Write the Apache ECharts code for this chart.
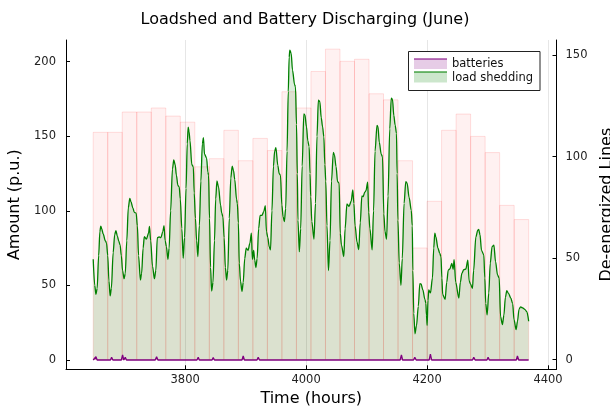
<!DOCTYPE html>
<html>
<head>
<meta charset="utf-8">
<script src="https://cdn.jsdelivr.net/npm/echarts@6/dist/echarts.min.js"></script>
<style>
  html, body { margin: 0; padding: 0; background: #fff; }
  #chart { width: 610px; height: 409px; }
</style>
</head>
<body>
<div id="chart"></div>
<script>
// day edges (hours) for the de-energized lines bars
var dayEdges = [3648, 3672, 3696, 3720, 3744, 3768, 3792, 3816, 3840, 3864, 3888,
  3912, 3936, 3960, 3984, 4008, 4032, 4056, 4080, 4104, 4128,
  4152, 4176, 4200, 4224, 4248, 4272, 4296, 4320, 4344, 4368];
// de-energized lines per day (right axis)
var deEnergized = [112, 112, 122, 122, 124, 120, 117, 95, 99, 113,
  98, 109, 103, 132, 124, 142, 153, 147, 148, 131,
  128, 98, 55, 78, 113, 121, 110, 102, 76, 69];

// load shedding (left axis)
var shedHours = [
  3648, 3650.5, 3652.5, 3654.5, 3657, 3659, 3660.5, 3662, 3664.5, 3668, 3670, 3672, 3674, 3676,
  3678, 3681, 3683.5, 3685.5, 3688, 3690, 3692.5, 3694.5, 3696.5, 3699,
  3701, 3703.5, 3706, 3708.5, 3710.5, 3713.5, 3716, 3719, 3721, 3723, 3726,
  3728, 3730.5, 3732.5, 3736, 3739.5, 3741, 3743, 3746, 3749.2,
  3751.5, 3754, 3757, 3760, 3763, 3765, 3767, 3769, 3771.5,
  3773.5, 3776, 3779, 3781.2, 3783.5, 3785.5, 3788, 3790.2, 3792, 3794.5, 3796.8,
  3799, 3801.5, 3803.5, 3805, 3806.5, 3808, 3811, 3813.5, 3815, 3817, 3819, 3821,
  3823.5, 3826, 3828.5, 3830.2, 3832, 3835.4, 3837.6, 3838.7, 3840.3, 3842, 3843.8,
  3846, 3848.5, 3850.5, 3852.6, 3855.2, 3858.5, 3860.5, 3862.4, 3864.5, 3866.5, 3868.5,
  3870.5, 3873, 3875.5, 3877.8, 3880, 3882, 3885, 3886.3, 3888, 3889.5, 3891.5, 3894,
  3896, 3898.5, 3901, 3904, 3907, 3909.5, 3911.2, 3913.3, 3915, 3917,
  3919, 3921.5, 3924, 3927, 3930, 3932.5, 3934.5, 3936.7, 3939, 3941.1,
  3943.5, 3946, 3948, 3950, 3953.2, 3955.5, 3957.6, 3959.9, 3962, 3964, 3966.2,
  3968.5, 3970.5, 3972, 3973.1, 3975.3, 3977.5, 3981, 3982.4, 3984.1, 3985.5, 3986.5, 3988.8,
  3991, 3993.5, 3996.2, 3998, 4000.6, 4002.8, 4005, 4006.5, 4007.6, 4009.4, 4013,
  4015.5, 4018, 4020.3, 4022.7, 4025, 4027.2, 4029.3, 4031, 4032.5, 4034.5, 4037,
  4039.5, 4042, 4045, 4046.8, 4049.5, 4052, 4054.6, 4056.5, 4058.5, 4062.3,
  4064.5, 4067.5, 4071, 4074.5, 4077.2, 4079, 4081, 4084.2, 4087,
  4089.5, 4092.2, 4094.3, 4097, 4099, 4101.8, 4103.5, 4105.5, 4109.2,
  4111.5, 4114, 4117.2, 4118.8, 4121, 4124.2, 4126.3, 4128.5, 4130.5, 4133,
  4135.5, 4138.3, 4140.8, 4142.8, 4145, 4147.2, 4149.4, 4150.5, 4151.8, 4154, 4156.8,
  4159, 4162, 4164.8, 4167, 4170.3, 4173.9, 4175.5, 4176.5, 4178, 4180,
  4182.5, 4185.5, 4188, 4190, 4193, 4196.5, 4198, 4199, 4200.1,
  4201.5, 4202.8, 4205.6, 4208.9, 4211, 4212.8, 4214.4, 4218, 4221, 4223, 4224.5, 4225.8,
  4229.8, 4232.5, 4235, 4237.6, 4241, 4243.1, 4244.7, 4247.4, 4252.5,
  4255, 4257.5, 4260.7, 4264.1, 4267.4, 4269.6, 4271.7, 4275,
  4277, 4280.6, 4283.9, 4285.4, 4287.5, 4290, 4293.8, 4295.5, 4297, 4299.3,
  4302, 4304.5, 4307.5, 4310.5, 4313.2, 4316.5, 4319.2, 4321.5, 4324.6,
  4327, 4329.5, 4331.8, 4334.6, 4338.5, 4341.5, 4343.8, 4347.2,
  4349.5, 4352, 4354.6, 4358, 4361.5, 4365, 4368
];
var shedValues = [
  67.5, 50, 44, 48, 70, 86, 89.8, 88, 84.5, 80, 78.5, 70, 53, 43,
  48, 72, 84, 86.7, 83, 80, 77, 70, 60, 54.5,
  58, 80, 102, 108.3, 106, 102, 99, 98.5, 90, 70, 53.6,
  58, 75, 82.7, 81, 85, 89.6, 80, 63, 54.5,
  60, 82, 82.5, 82, 86, 90, 80, 76, 67.5,
  75, 100, 128, 134.1, 131, 124, 117, 116, 108, 88, 68.2,
  82, 115, 145, 156.2, 153, 147, 131, 129.6, 112, 95, 80, 69.4,
  90, 120, 145, 149, 138, 135.5, 126, 124, 95, 62, 46.2,
  52, 80, 108, 120, 116, 104, 98.5, 96, 82, 62, 53.6,
  60, 95, 122, 130, 127, 121, 107.8, 105, 92, 65, 53, 46,
  52, 68, 75, 73.5, 78.2, 85, 67.5, 73.5, 67, 62,
  68, 88, 97, 97, 99.5, 103.5, 86, 82, 76, 73.8,
  100, 130, 140, 142.3, 130.5, 125, 124, 104, 96, 92.8, 101.5,
  140, 180, 203, 207.8, 205.6, 194.4, 184.5, 183.3, 158, 125, 93.8, 72.6,
  88, 130, 165, 164.3, 156.4, 147, 143, 125, 109.5, 93, 81,
  105, 150, 174.3, 173.2, 162.5, 156.4, 149.7, 131, 120, 90, 60,
  80, 120, 139.2, 137.5, 129.6, 119.6, 118.5, 85, 77, 69.4,
  88, 104.6, 103, 106.5, 114, 105, 90, 79, 74,
  92, 110, 109.5, 112.5, 113.5, 119.2, 99, 88, 73.8,
  100, 140, 157.3, 156.4, 146, 138, 136.3, 98, 86, 81,
  110, 155, 175.5, 174.8, 164, 157.5, 152, 125, 93.8, 65, 50,
  68, 105, 119.6, 118.5, 109, 100.3, 90, 60, 31.3, 17.6,
  23, 36, 51.2, 51, 47, 40.5, 38, 30, 23.2,
  40, 47, 45, 55, 75, 85, 82.7, 75, 71.5, 69.3, 55, 44,
  40.6, 52, 60.3, 61, 64.8, 60.8, 67.3, 52, 41.5,
  52, 58.1, 60.5, 61, 67, 53, 51, 48,
  60, 82.3, 87.1, 87.6, 84, 73.5, 70.5, 55, 38, 30.2,
  45, 65, 76, 77, 66, 57, 55, 29, 23.8,
  30, 42, 46.5, 44.7, 41.5, 37.8, 27, 20.3,
  26, 34, 35.6, 35, 34, 32.4, 26
];

// battery discharging (left axis)
var batteryHours = [
  3648, 3650.5, 3652.5, 3654.5, 3676.5, 3678.4, 3680.5, 3694.5, 3696.6, 3698.5, 3701, 3703,
  3726, 3728, 3730, 3750.5, 3752.8, 3755, 3773, 3774.8, 3777, 3795, 3797, 3799,
  3819.5, 3821.6, 3823.5, 3844.5, 3846.4, 3848.5, 3866.5, 3868.5, 3870.5,
  3894, 3896, 3898, 3918.8, 3920.8, 3923, 3941, 3942.8, 3945, 3965.5, 3967.6, 3969.5,
  3987.5, 3989.6, 3991.5, 4012.5, 4014.4, 4016.5, 4037, 4039.2, 4041, 4062, 4064, 4066,
  4087, 4088.8, 4091, 4109, 4110.8, 4113, 4131, 4132.9, 4135,
  4155.5, 4157.6, 4159.5, 4177.5, 4179.7, 4182, 4203.5, 4205.5, 4207.5,
  4230, 4232, 4234, 4255, 4256.8, 4259, 4275, 4277.2, 4279.5, 4299, 4300.9, 4303,
  4323.5, 4325.7, 4328, 4347.5, 4349.4, 4351.5, 4368
];
var batteryValues = [
  0, 0, 2.2, 0, 0, 1.8, 0, 0, 3.4, 0, 1.8, 0,
  0, 1.1, 0, 0, 2.2, 0, 0, 0.7, 0, 0, 1, 0,
  0, 1.8, 0, 0, 1.6, 0, 0, 1.1, 0,
  0, 2.7, 0, 0, 1.8, 0, 0, 1.1, 0, 0, 1.1, 0,
  0, 0.7, 0, 0, 1.3, 0, 0, 1.1, 0, 0, 1.3, 0,
  0, 1.3, 0, 0, 0.9, 0, 0, 1.3, 0,
  0, 3.4, 0, 0, 1.8, 0, 0, 4, 0,
  0, 1.1, 0, 0, 1.1, 0, 0, 1.8, 0, 0, 1.8, 0,
  0, 1.1, 0, 0, 2.7, 0, 0
];

var xTicks = [3800, 4000, 4200, 4400];
var leftTicks = [0, 50, 100, 150, 200];
var rightTicks = [0, 50, 100, 150];

var FONT = 'DejaVu Sans';

var barData = deEnergized.map(function (v, i) { return [dayEdges[i], dayEdges[i + 1], v]; });
var shedData = shedHours.map(function (h, i) { return [h, shedValues[i]]; });
var batteryData = batteryHours.map(function (h, i) { return [h, batteryValues[i]]; });

var myChart = echarts.init(document.getElementById('chart'));

var axisLine = { show: true, onZero: false, lineStyle: { color: '#000', width: 1 } };
var nameStyle = { fontFamily: FONT, fontSize: 16, color: '#000' };
var plain = function (v) { return String(v); };

var option = {
  animation: false,
  backgroundColor: '#fff',
  title: {
    text: 'Loadshed and Battery Discharging (June)',
    left: 'center',
    top: 12,
    padding: [0, 0, 0, 12],
    textStyle: { fontFamily: FONT, fontSize: 16, fontWeight: 'normal', color: '#000' }
  },
  grid: { left: 66, right: 53.5, top: 40, bottom: 39.7, containLabel: false, outerBoundsMode: 'none' },
  xAxis: {
    type: 'value',
    min: 3603,
    max: 4414,
    name: 'Time (hours)',
    nameLocation: 'middle',
    nameGap: 16,
    nameTextStyle: nameStyle,
    axisLine: axisLine,
    axisTick: { show: true, inside: true, length: 4, lineStyle: { color: '#000' }, customValues: xTicks },
    axisLabel: { customValues: xTicks, formatter: plain, fontFamily: FONT, fontSize: 11.5, color: '#222', margin: 5 },
    splitLine: { show: true, lineStyle: { color: '#e6e6e6', width: 1 } }
  },
  yAxis: [
    {
      type: 'value',
      position: 'left',
      min: -6.24,
      max: 214.55,
      name: 'Amount (p.u.)',
      nameLocation: 'middle',
      nameGap: 36,
      nameTextStyle: nameStyle,
      axisLine: axisLine,
      axisTick: { show: true, inside: true, length: 4, lineStyle: { color: '#000' }, customValues: leftTicks },
      axisLabel: { customValues: leftTicks, formatter: plain, fontFamily: FONT, fontSize: 11.5, color: '#222', margin: 10 },
      splitLine: { show: false }
    },
    {
      type: 'value',
      position: 'right',
      min: -4.8,
      max: 157.5,
      name: 'De-energized Lines',
      nameLocation: 'middle',
      nameGap: 38,
      nameTextStyle: nameStyle,
      axisLine: axisLine,
      axisTick: { show: true, inside: true, length: 4, lineStyle: { color: '#000' }, customValues: rightTicks },
      axisLabel: { customValues: rightTicks, formatter: plain, fontFamily: FONT, fontSize: 11.5, color: '#222', margin: 9 },
      splitLine: { show: false }
    }
  ],
  series: [
    {
      name: 'de-energized lines',
      type: 'custom',
      yAxisIndex: 1,
      silent: true,
      z: 1,
      encode: { x: [0, 1], y: 2 },
      data: barData,
      renderItem: function (params, api) {
        var p0 = api.coord([api.value(0), api.value(2)]);
        var p1 = api.coord([api.value(1), 0]);
        return {
          type: 'rect',
          shape: { x: p0[0], y: p0[1], width: p1[0] - p0[0], height: p1[1] - p0[1] },
          style: { fill: 'rgba(255,0,0,0.055)', stroke: 'rgba(255,0,0,0.12)', lineWidth: 1 }
        };
      }
    },
    {
      name: 'load shedding',
      type: 'line',
      yAxisIndex: 0,
      z: 3,
      showSymbol: false,
      smooth: 0.3,
      smoothMonotone: 'x',
      data: shedData,
      lineStyle: { color: '#008000', width: 1.3 },
      areaStyle: { color: 'rgba(0,128,0,0.2)' }
    },
    {
      name: 'batteries',
      type: 'line',
      yAxisIndex: 0,
      z: 4,
      showSymbol: false,
      data: batteryData,
      lineStyle: { color: '#800080', width: 1.3 },
      areaStyle: { color: 'rgba(128,0,128,0.2)' }
    }
  ],
  // legend box drawn by hand to get the filled swatch with a line on top
  graphic: [
    { type: 'rect', z: 100, shape: { x: 408.5, y: 51.5, width: 131.5, height: 39 },
      style: { fill: '#fff', stroke: '#222', lineWidth: 1 } },
    { type: 'rect', z: 101, shape: { x: 414, y: 59, width: 33, height: 10 },
      style: { fill: 'rgba(128,0,128,0.2)' } },
    { type: 'line', z: 102, shape: { x1: 414, y1: 59, x2: 447, y2: 59 },
      style: { stroke: 'rgba(128,0,128,0.7)', lineWidth: 1.5 } },
    { type: 'rect', z: 101, shape: { x: 414, y: 72, width: 33, height: 10.5 },
      style: { fill: 'rgba(0,128,0,0.2)' } },
    { type: 'line', z: 102, shape: { x1: 414, y1: 72, x2: 447, y2: 72 },
      style: { stroke: 'rgba(0,128,0,0.7)', lineWidth: 1.5 } },
    { type: 'text', z: 102, x: 452, y: 64.5,
      style: { text: 'batteries', fontFamily: FONT, fontSize: 11.5, fill: '#111', verticalAlign: 'middle' } },
    { type: 'text', z: 102, x: 452, y: 78,
      style: { text: 'load shedding', fontFamily: FONT, fontSize: 11.5, fill: '#111', verticalAlign: 'middle' } }
  ]
};

myChart.setOption(option);
window.addEventListener('resize', function () {
  myChart.resize();
});
</script>
</body>
</html>
